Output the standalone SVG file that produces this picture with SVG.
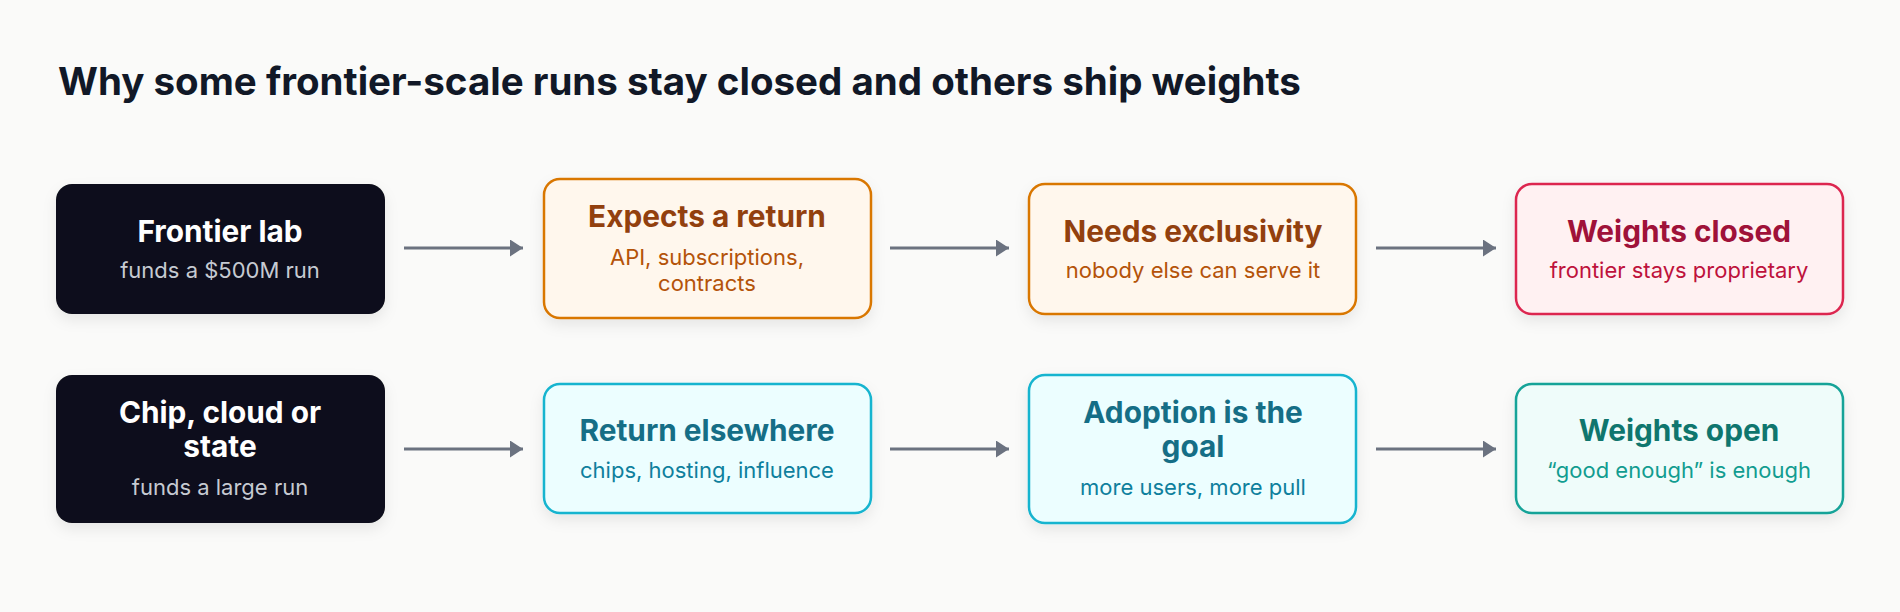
<svg xmlns="http://www.w3.org/2000/svg" width="1900" height="612" viewBox="0 0 1900 612">
<style>
  .bg{fill:#fafaf9}
  .h{font-family:Inter,"Liberation Sans",sans-serif;font-weight:700;font-size:38.5px;fill:#111827}
  .t{font-family:Inter,"Liberation Sans",sans-serif;font-weight:700;font-size:29.8px;text-anchor:middle}
  .s{font-family:Inter,"Liberation Sans",sans-serif;font-weight:400;font-size:22px;text-anchor:middle}
  .box{stroke-width:2.5}
  .dark rect{fill:#0d111a}
  .dark .t{fill:#ffffff}
  .dark .s{fill:#c6cad2}
  .amber rect{fill:#fff7ed;stroke:#d97706}
  .amber .t{fill:#92400e}
  .amber .s{fill:#b45309}
  .rose rect{fill:#fff1f2;stroke:#dc2650}
  .rose .t{fill:#9f1239}
  .rose .s{fill:#be123c}
  .cyan rect{fill:#ecfeff;stroke:#14b4cf}
  .cyan .t{fill:#156e86}
  .cyan .s{fill:#0e809d}
  .teal rect{fill:#effcfa;stroke:#17a398}
  .teal .t{fill:#0f766e}
  .teal .s{fill:#129c90}
  .edge{stroke:#6b7280;stroke-width:3;fill:none}
</style>
<defs>
  <filter id="sh" x="-10%" y="-10%" width="120%" height="140%">
    <feDropShadow dx="0" dy="6" stdDeviation="7" flood-color="#000000" flood-opacity="0.08"/>
  </filter>
  <marker id="arr" viewBox="0 0 13 17" refX="13" refY="8.5" markerWidth="13" markerHeight="17" markerUnits="userSpaceOnUse" orient="auto">
    <path d="M0,0 L13,8.5 L0,17 Z" fill="#6b7280"/>
  </marker>
</defs>
<rect class="bg" x="0" y="0" width="1900" height="612"/>
<text class="h" x="58" y="95">Why some frontier-scale runs stay closed and others ship weights</text>

<g id="connectors">
  <line class="edge" x1="404" y1="248" x2="523" y2="248" marker-end="url(#arr)"/>
  <line class="edge" x1="890" y1="248" x2="1009" y2="248" marker-end="url(#arr)"/>
  <line class="edge" x1="1376" y1="248" x2="1496" y2="248" marker-end="url(#arr)"/>
  <line class="edge" x1="404" y1="449" x2="523" y2="449" marker-end="url(#arr)"/>
  <line class="edge" x1="890" y1="449" x2="1009" y2="449" marker-end="url(#arr)"/>
  <line class="edge" x1="1376" y1="449" x2="1496" y2="449" marker-end="url(#arr)"/>
</g>

<g id="frontier-lab" class="dark">
  <rect x="56" y="184" width="329" height="130" rx="16" filter="url(#sh)"/>
  <text class="t" x="220" y="242">Frontier lab</text>
  <text class="s" x="220" y="278">funds a $500M run</text>
</g>
<g id="expects-return" class="amber">
  <rect class="box" x="544" y="179" width="327" height="139" rx="16" filter="url(#sh)"/>
  <text class="t" x="707" y="227">Expects a return</text>
  <text class="s" x="707" y="265">API, subscriptions,</text>
  <text class="s" x="707" y="291">contracts</text>
</g>
<g id="needs-exclusivity" class="amber">
  <rect class="box" x="1029" y="184" width="327" height="130" rx="16" filter="url(#sh)"/>
  <text class="t" x="1193" y="242">Needs exclusivity</text>
  <text class="s" x="1193" y="278">nobody else can serve it</text>
</g>
<g id="weights-closed" class="rose">
  <rect class="box" x="1516" y="184" width="327" height="130" rx="16" filter="url(#sh)"/>
  <text class="t" x="1679" y="242">Weights closed</text>
  <text class="s" x="1679" y="278">frontier stays proprietary</text>
</g>

<g id="chip-cloud-state" class="dark">
  <rect x="56" y="375" width="329" height="148" rx="16" filter="url(#sh)"/>
  <text class="t" x="220" y="423">Chip, cloud or</text>
  <text class="t" x="220" y="457">state</text>
  <text class="s" x="220" y="495">funds a large run</text>
</g>
<g id="return-elsewhere" class="cyan">
  <rect class="box" x="544" y="384" width="327" height="129" rx="16" filter="url(#sh)"/>
  <text class="t" x="707" y="441">Return elsewhere</text>
  <text class="s" x="707" y="478">chips, hosting, influence</text>
</g>
<g id="adoption-goal" class="cyan">
  <rect class="box" x="1029" y="375" width="327" height="148" rx="16" filter="url(#sh)"/>
  <text class="t" x="1193" y="423">Adoption is the</text>
  <text class="t" x="1193" y="457">goal</text>
  <text class="s" x="1193" y="495">more users, more pull</text>
</g>
<g id="weights-open" class="teal">
  <rect class="box" x="1516" y="384" width="327" height="129" rx="16" filter="url(#sh)"/>
  <text class="t" x="1679" y="441">Weights open</text>
  <text class="s" x="1679" y="478">“good enough” is enough</text>
</g>
</svg>
